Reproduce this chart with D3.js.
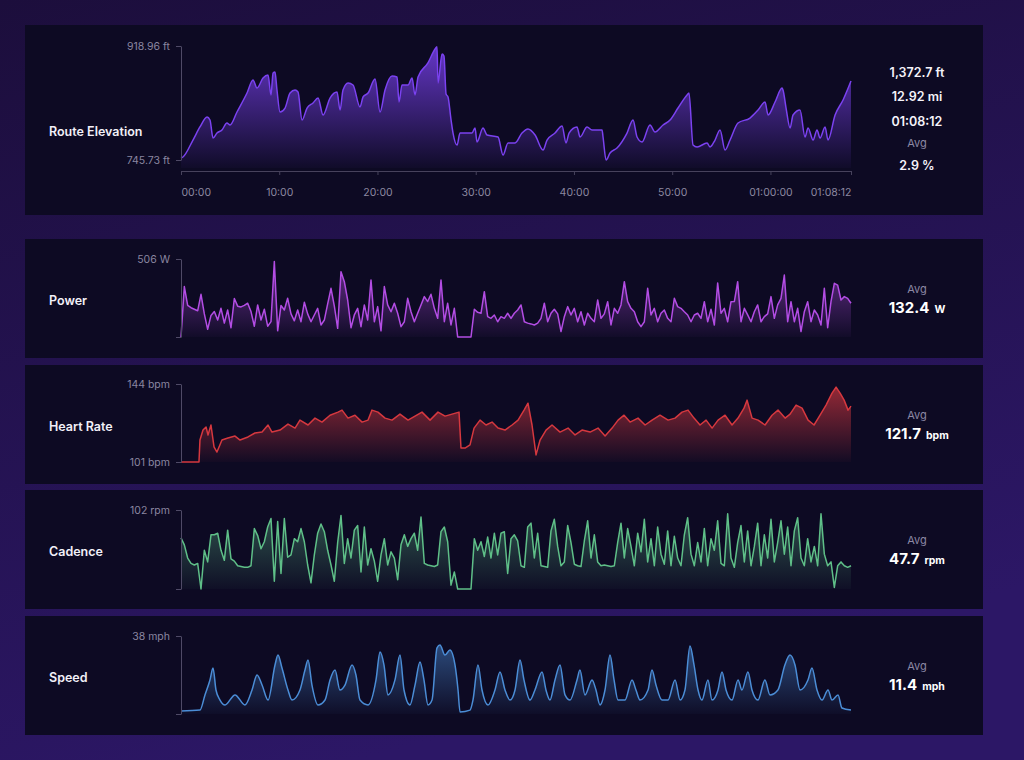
<!DOCTYPE html>
<html>
<head>
<meta charset="utf-8">
<script src="https://cdn.jsdelivr.net/npm/d3@7"></script>
<style>
body{margin:0;background:#1f1043;}
svg{display:block;font-family:Inter,"Noto Sans",sans-serif;}
</style>
</head>
<body>
<div class="c_ride"></div>
<script>

/*DATA
------------------------------------------------------
*/

const totalSec = 4092; // 01:08:12
const timeTicks = [0, 600, 1200, 1800, 2400, 3000, 3600, 4092];
const timeLabels = ["00:00", "10:00", "20:00", "30:00", "40:00", "50:00", "01:00:00", "01:08:12"];

// [minutes, ft]
const elevation = [[0,748.8],[0.2,750.3],[1.22,776.1],[1.93,795.9],[2.65,811.1],[2.95,806.5],[3.26,779.1],[3.66,786.7],[4.17,791.3],[4.68,801.9],[4.99,798.9],[5.70,818.7],[6.72,847.5],[7.33,867.3],[7.74,855.1],[8.35,870.3],[8.86,874.9],[9.16,844.5],[9.37,878.0],[9.57,879.5],[9.77,852.1],[10.08,818.7],[10.59,824.7],[11.10,847.5],[11.61,852.1],[11.91,849.1],[12.32,806.5],[12.83,824.7],[13.44,832.4],[13.95,839.9],[14.46,814.1],[15.17,839.9],[15.88,849.1],[16.19,821.7],[16.49,852.1],[17.00,862.8],[17.51,859.7],[18.22,826.3],[18.53,841.5],[19.04,847.5],[19.75,868.8],[20.26,818.7],[20.77,852.1],[21.48,873.4],[21.99,871.9],[22.19,833.9],[22.50,859.7],[23.11,859.7],[23.52,870.3],[23.82,844.5],[24.13,871.9],[25.14,893.2],[25.86,914.4],[26.06,918.0],[26.16,862.8],[26.57,906.8],[26.77,903.8],[26.98,846.0],[27.18,841.5],[27.49,806.5],[27.69,786.7],[28.10,768.5],[28.40,786.7],[29.62,786.7],[29.93,794.4],[30.13,773.1],[30.74,794.4],[31.15,783.7],[32.27,780.7],[32.78,753.3],[33.29,771.6],[34.00,771.6],[34.71,786.7],[35.32,792.8],[36.04,783.7],[36.85,760.9],[37.26,776.1],[38.07,786.7],[38.79,797.4],[39.19,771.6],[39.50,786.7],[40.31,795.9],[40.62,780.7],[41.33,795.9],[41.84,791.3],[42.86,791.3],[42.96,780.7],[43.27,745.7],[43.67,756.4],[44.38,763.9],[45.40,786.7],[46.01,806.5],[46.42,780.7],[46.93,773.1],[47.74,798.9],[48.25,788.3],[49.07,798.9],[49.78,806.5],[50.59,824.7],[51.51,844.5],[51.71,847.5],[52.12,768.5],[52.53,765.5],[53.55,771.6],[53.85,765.5],[54.36,776.1],[54.87,791.3],[55.38,760.9],[55.89,776.1],[56.70,801.9],[57.92,809.5],[58.74,821.7],[59.45,833.9],[59.76,814.1],[60.47,833.9],[61.18,855.1],[61.28,852.1],[61.59,824.7],[62.00,794.4],[62.30,814.1],[63.01,821.7],[63.52,780.7],[63.83,794.4],[64.34,776.1],[64.74,791.3],[65.05,779.1],[65.56,795.9],[65.86,776.1],[66.58,814.1],[67.39,836.9],[68.2,865.8]];

// W, evenly spaced over the ride
const power = [0,327,205,190,180,170,277,150,50,140,
165,110,186,90,175,60,250,200,195,205,
219,165,70,208,110,180,70,100,489,40,
205,175,251,150,105,175,99,225,150,99,
143,186,78,110,215,316,200,56,424,359,
240,60,143,186,67,208,110,370,99,197,
40,327,208,164,219,154,67,99,251,164,
99,154,208,262,230,277,186,121,370,99,
219,78,186,0,0,0,0,0,180,160,
154,294,132,121,143,99,132,121,154,121,
154,175,208,99,90,85,78,90,121,219,
99,154,180,150,35,132,197,143,186,99,
164,78,154,121,99,240,121,150,229,78,
186,154,208,359,229,186,164,99,67,99,
316,143,186,99,154,175,121,99,251,197,
186,164,143,99,143,154,121,229,99,180,
78,350,154,186,99,229,230,359,99,186,
143,99,164,208,99,132,150,262,121,208,
251,402,99,229,99,186,35,164,229,99,
175,143,78,316,60,229,348,337,240,262,
251,219];

// [minutes, bpm]
const heartRate = [[0,101],[1.83,101],[1.93,113.1],[2.24,118.6],[2.55,120.3],[2.75,115.9],[3.05,121.4],[3.36,109.3],[3.66,106.5],[4.17,113.1],[4.78,114.2],[5.50,115.3],[6.01,113.1],[6.82,114.8],[7.53,117.0],[8.25,117.5],[8.86,121.4],[9.26,117.5],[10.08,118.6],[10.89,121.9],[11.61,119.7],[12.11,124.1],[12.93,121.4],[13.64,125.2],[14.35,123.0],[15.17,126.8],[15.98,128.5],[16.39,129.6],[17.00,125.2],[17.71,126.8],[18.43,123.0],[19.04,124.1],[19.44,129.6],[20.05,128.5],[20.77,125.2],[21.48,124.1],[22.29,127.4],[23.11,124.1],[23.82,126.3],[24.53,128.5],[25.35,124.1],[26.16,128.5],[26.88,126.3],[27.59,127.4],[28.30,128.5],[28.50,108.7],[28.91,108.7],[29.42,110.4],[29.83,119.7],[30.44,124.1],[31.05,121.4],[31.66,123.0],[32.27,119.7],[32.98,118.6],[33.70,121.4],[34.31,124.1],[34.92,129.6],[35.32,133.4],[35.73,121.4],[36.14,104.9],[36.55,113.1],[37.16,118.6],[37.77,121.4],[38.58,117.5],[39.40,119.7],[40.11,115.9],[40.82,118.6],[41.64,117.5],[42.45,119.7],[43.17,115.3],[43.88,119.7],[44.49,124.1],[45.10,126.8],[45.71,123.0],[46.52,125.2],[47.24,121.4],[47.95,124.1],[48.76,126.8],[49.58,124.1],[50.29,125.2],[51.00,128.5],[51.61,129.6],[52.22,125.2],[52.83,121.4],[53.45,124.1],[54.06,119.7],[54.67,124.1],[55.38,126.8],[56.09,121.4],[56.70,125.2],[57.31,130.7],[57.62,135.1],[58.13,125.2],[58.74,124.1],[59.45,121.4],[60.16,126.8],[60.77,129.6],[61.49,125.2],[62.00,127.4],[62.61,132.4],[63.22,130.7],[63.83,124.1],[64.44,121.4],[65.05,126.8],[65.66,132.4],[66.27,139.0],[66.68,142.3],[67.09,139.0],[67.50,135.1],[67.90,129.6],[68.20,131.8]];

// rpm, evenly spaced over the ride
const cadence = [66,57,40,33,31,33,0,50,35,70,
70,72,50,37,76,39,36,30,29,28,
28,30,78,69,52,61,80,91,10,87,
20,91,41,44,65,61,78,61,31,8,
44,72,84,74,50,31,10,60,95,33,
65,40,76,82,22,80,31,52,36,10,
44,65,31,48,40,12,57,70,55,65,
72,50,93,33,31,30,29,31,74,80,
61,5,22,0,0,0,0,0,65,50,
61,42,67,40,72,44,72,74,20,65,
70,62,30,28,80,85,40,72,30,29,
28,75,90,55,30,35,82,60,32,30,
29,62,88,40,70,35,30,31,30,29,
30,60,85,40,78,55,30,72,48,90,
35,65,30,80,45,32,75,30,68,40,
30,70,92,45,30,60,35,78,30,65,
50,88,33,30,97,40,28,60,82,35,
75,30,55,85,30,70,40,90,35,60,
88,45,80,30,75,92,40,30,65,35,
55,30,97,45,30,35,2,30,35,30,
28,30];

// [minutes, mph]
const speed = [[0,1.5],[1.93,1.9],[2.44,9.3],[2.95,16.6],[3.26,22.4],[3.56,11.7],[3.97,6.8],[4.48,4.4],[5.50,9.3],[6.51,4.4],[7.23,11.7],[7.74,19.0],[8.25,14.1],[8.86,6.8],[9.57,23.9],[9.87,28.7],[10.28,22.4],[10.89,11.7],[11.30,6.8],[12.11,11.7],[12.62,21.4],[12.93,26.3],[13.33,14.1],[13.95,4.4],[14.66,6.8],[15.17,16.6],[15.68,21.4],[16.18,11.7],[16.69,14.1],[17.41,23.9],[17.81,19.0],[18.22,6.8],[19.04,4.4],[19.85,16.6],[20.26,30.2],[20.66,23.9],[21.07,9.3],[21.78,16.6],[22.29,28.7],[22.70,11.7],[23.31,4.4],[23.82,14.1],[24.33,25.3],[24.73,16.6],[25.14,4.4],[25.55,6.8],[26.06,32.2],[26.36,33.6],[26.87,28.7],[27.38,31.2],[27.89,23.9],[28.20,11.7],[28.40,1.0],[29.42,1.9],[29.72,6.8],[30.23,23.9],[30.64,11.7],[31.25,4.4],[31.96,11.7],[32.47,20.5],[32.98,11.7],[33.49,6.8],[34.00,11.7],[34.51,26.3],[34.91,16.6],[35.52,6.8],[36.03,11.7],[36.75,20.5],[37.15,11.7],[37.56,6.8],[38.07,16.6],[38.58,23.9],[39.09,9.3],[39.60,6.8],[40.31,16.6],[40.61,21.4],[41.12,9.3],[41.84,16.6],[42.24,11.7],[42.65,4.4],[43.16,11.7],[43.67,28.7],[44.08,16.6],[44.48,6.8],[45.19,6.8],[45.91,16.6],[46.31,11.7],[46.72,6.8],[47.54,11.7],[47.94,21.4],[48.35,14.1],[48.96,6.8],[49.57,6.8],[50.29,16.6],[50.80,6.8],[51.30,11.7],[51.81,33.1],[52.22,23.9],[52.63,11.7],[53.03,6.8],[53.64,16.6],[54.05,6.8],[54.66,11.7],[55.07,20.5],[55.48,11.7],[56.09,6.8],[56.70,16.6],[57.10,11.7],[57.71,20.5],[58.12,11.7],[58.73,6.8],[59.44,16.6],[59.95,9.3],[60.76,11.7],[61.47,23.9],[61.99,28.7],[62.50,23.9],[63.01,11.7],[63.82,16.6],[64.23,22.4],[64.74,11.7],[65.25,6.8],[65.86,11.7],[66.27,6.8],[66.88,9.3],[67.28,2.9],[68.20,1.9]];

const routeStats = ["1,372.7 ft", "12.92 mi", "01:08:12"];
const routeAvg = "2.9 %";
const avgValues = ["132.4", "121.7", "47.7", "11.4"];
const avgUnits = ["W", "bpm", "rpm", "mph"];


/*INITIATE
------------------------------------------------------
*/

const width = 1024;
const height = 760;
const plotLeft = 181, plotRight = 851;
const statX = 917;

const svg = d3.select(".c_ride")
	.append("svg")
	.attr("width", width)
	.attr("height", height);

const defs = svg.append("defs");

const bg = defs.append("linearGradient").attr("id", "bg")
	.attr("x1", 0).attr("y1", 0).attr("x2", 0.35).attr("y2", 1);
bg.append("stop").attr("offset", 0).attr("stop-color", "#1c0e3c");
bg.append("stop").attr("offset", 1).attr("stop-color", "#2c1766");

svg.append("rect")
	.attr("width", width)
	.attr("height", height)
	.attr("fill", "url(#bg)");

const x = d3.scaleLinear().domain([0, totalSec]).range([plotLeft, plotRight]);

const evenly = arr => arr.map((v, i) => [i / (arr.length - 1) * totalSec, v]);
const fromMin = arr => arr.map(d => [d[0] * 60, d[1]]);


/*CHARTS
------------------------------------------------------
*/

const charts = [
	{name: "Route Elevation", top: 25, h: 190, y0: 46, y1: 160, base: 168, domain: [745.73, 918.96],
		data: fromMin(elevation), color: "#7b42f0", fillOp: 0.8, labels: ["918.96 ft", "745.73 ft"], curve: d3.curveMonotoneX},
	{name: "Power", top: 239, h: 119, y0: 259, y1: 337, base: 337, domain: [0, 506],
		data: evenly(power), color: "#b34de4", fillOp: 0.55, labels: ["506 W", ""], curve: d3.curveLinear},
	{name: "Heart Rate", top: 365, h: 119, y0: 384, y1: 462, base: 462, domain: [101, 144],
		data: fromMin(heartRate), color: "#d5383f", fillOp: 0.7, labels: ["144 bpm", "101 bpm"], curve: d3.curveLinear},
	{name: "Cadence", top: 490, h: 119, y0: 510, y1: 589, base: 589, domain: [0, 102],
		data: evenly(cadence), color: "#5fbf88", fillOp: 0.42, labels: ["102 rpm", ""], curve: d3.curveLinear},
	{name: "Speed", top: 616, h: 119, y0: 636, y1: 714, base: 714, domain: [0, 38],
		data: fromMin(speed), color: "#4b8dd6", fillOp: 0.55, labels: ["38 mph", ""], curve: d3.curveMonotoneX}
];

charts.forEach(function(c, i){

	const g = svg.append("g");

	g.append("rect")
		.attr("x", 25).attr("y", c.top)
		.attr("width", 958).attr("height", c.h)
		.attr("fill", "#0d0a23");

	const y = d3.scaleLinear().domain(c.domain).range([c.y1, c.y0]);

	const grad = defs.append("linearGradient").attr("id", "fill" + i)
		.attr("gradientUnits", "userSpaceOnUse")
		.attr("x1", 0).attr("x2", 0).attr("y1", c.y0).attr("y2", c.base);
	grad.append("stop").attr("offset", 0).attr("stop-color", c.color).attr("stop-opacity", c.fillOp);
	grad.append("stop").attr("offset", 1).attr("stop-color", c.color).attr("stop-opacity", 0.03);

	const area = d3.area()
		.x(d => x(d[0])).y0(c.base).y1(d => y(d[1]))
		.curve(c.curve);

	const line = d3.line()
		.x(d => x(d[0])).y(d => y(d[1]))
		.curve(c.curve);

	g.append("path")
		.datum(c.data)
		.attr("d", area)
		.attr("fill", "url(#fill" + i + ")");

	g.append("path")
		.datum(c.data)
		.attr("d", line)
		.attr("fill", "none")
		.attr("stroke", c.color)
		.attr("stroke-width", 1.5)
		.attr("stroke-linejoin", "round");

	// y axis
	const yAxis = d3.axisLeft(y)
		.tickValues([c.domain[1], c.domain[0]])
		.tickFormat((d, k) => c.labels[k])
		.tickSizeInner(5).tickSizeOuter(0).tickPadding(6);

	const gy = g.append("g")
		.attr("transform", "translate(" + plotLeft + ",0)")
		.call(yAxis)
		.attr("font-family", null);
	gy.select(".domain").attr("stroke", "#4f4a66");
	gy.selectAll(".tick line").attr("stroke", "#4f4a66");
	gy.selectAll(".tick text").attr("fill", "#8a86a0").attr("font-size", 10.5);

	// name
	g.append("text")
		.attr("x", 49).attr("y", c.top + (i === 0 ? 107 : 62))
		.attr("dy", "0.35em")
		.attr("fill", "#f2f0f8")
		.attr("font-size", 12.5)
		.attr("font-weight", 600)
		.text(c.name);

	if (i > 0) {
		g.append("text")
			.attr("x", statX).attr("y", c.top + 50).attr("dy", "0.35em")
			.attr("text-anchor", "middle")
			.attr("fill", "#8c88a3").attr("font-size", 11)
			.text("Avg");
		const t = g.append("text")
			.attr("x", statX).attr("y", c.top + 68).attr("dy", "0.35em")
			.attr("text-anchor", "middle")
			.attr("fill", "#ffffff").attr("font-weight", 700);
		t.append("tspan").attr("font-size", 15).text(avgValues[i - 1]);
		t.append("tspan").attr("font-size", 10.5).attr("dx", 5).text(avgUnits[i - 1]);
	}
});


/*X AXIS + ROUTE STATS
------------------------------------------------------
*/

const xAxis = d3.axisBottom(x)
	.tickValues(timeTicks)
	.tickFormat((d, i) => timeLabels[i])
	.tickSizeInner(4).tickSizeOuter(0);

const gx = svg.append("g")
	.attr("transform", "translate(0,171)")
	.call(xAxis)
	.attr("font-family", null);
gx.select(".domain").attr("stroke", "#47425c");
gx.selectAll(".tick line").attr("stroke", "#47425c");
gx.selectAll(".tick text")
	.attr("fill", "#8c88a0")
	.attr("font-size", 10.5)
	.attr("y", 18)
	.attr("text-anchor", (d, i) => i === 0 ? "start" : (i === timeTicks.length - 1 ? "end" : "middle"));

const statY = [73, 97, 122];
routeStats.forEach(function(s, i){
	svg.append("text")
		.attr("x", statX).attr("y", statY[i]).attr("dy", "0.35em")
		.attr("text-anchor", "middle")
		.attr("fill", "#f5f3fa").attr("font-size", 12.5).attr("font-weight", 600)
		.text(s);
});

svg.append("text")
	.attr("x", statX).attr("y", 143).attr("dy", "0.35em")
	.attr("text-anchor", "middle")
	.attr("fill", "#8c88a3").attr("font-size", 11)
	.text("Avg");

svg.append("text")
	.attr("x", statX).attr("y", 166).attr("dy", "0.35em")
	.attr("text-anchor", "middle")
	.attr("fill", "#f5f3fa").attr("font-size", 12.5).attr("font-weight", 600)
	.text(routeAvg);

</script>
</body>
</html>
